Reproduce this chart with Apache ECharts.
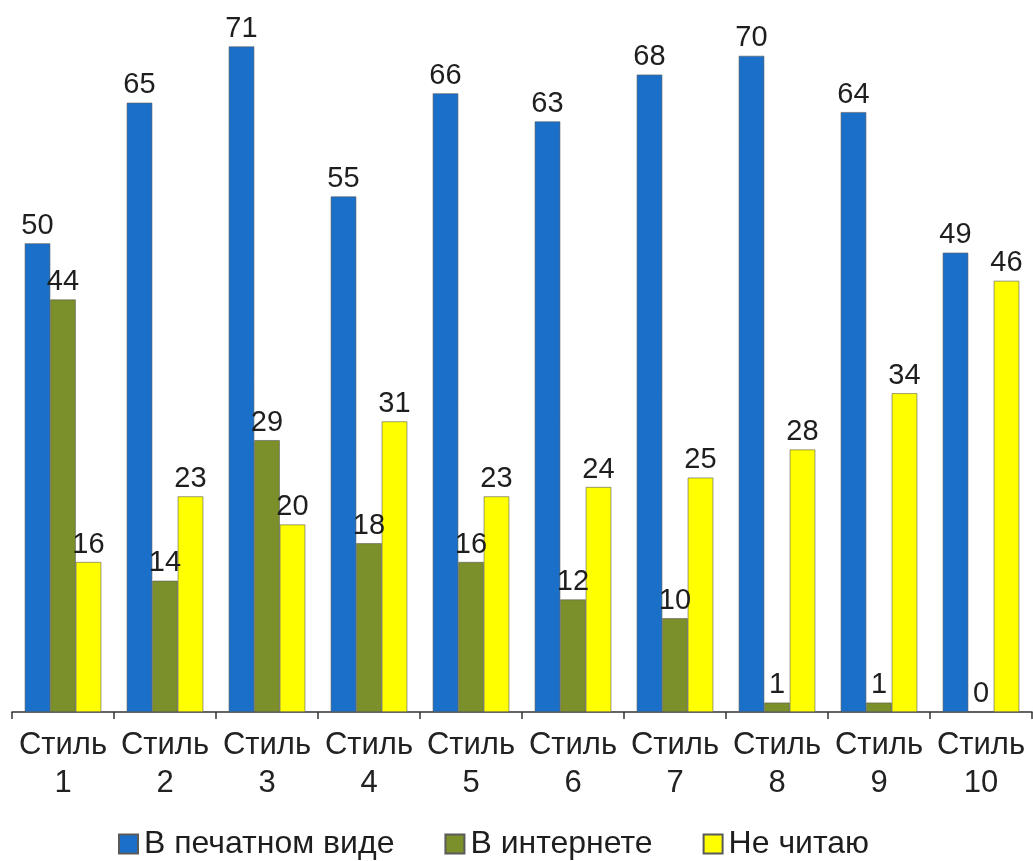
<!DOCTYPE html>
<html>
<head>
<meta charset="utf-8">
<script src="https://cdn.jsdelivr.net/npm/echarts@6/dist/echarts.min.js"></script>
<style>
  html, body { margin: 0; padding: 0; background: #ffffff; }
  #chart { width: 1033px; height: 861px; }
</style>
</head>
<body>
<div id="chart"></div>
<script>
// Survey: how respondents read, by style group
const categories = ['Стиль\n1', 'Стиль\n2', 'Стиль\n3', 'Стиль\n4', 'Стиль\n5',
                    'Стиль\n6', 'Стиль\n7', 'Стиль\n8', 'Стиль\n9', 'Стиль\n10'];
const seriesNames = ['В печатном виде', 'В интернете', 'Не читаю'];
const printed  = [50, 65, 71, 55, 66, 63, 68, 70, 64, 49];
const online   = [44, 14, 29, 18, 16, 12, 10, 1, 1, 0];
const notRead  = [16, 23, 20, 31, 23, 24, 25, 28, 34, 46];

const colors = ['#1a6fc9', '#7b8f2b', '#ffff00'];
const font = '"Liberation Sans", Arial, sans-serif';

function makeSeries(name, data, color) {
  return {
    name: name,
    type: 'bar',
    data: data,
    barGap: '0%',
    barCategoryGap: '25%',
    itemStyle: { color: color, borderColor: '#5a5a5a', borderWidth: 0.6 },
    label: {
      show: true,
      position: 'top',
      distance: 3,
      color: '#1e1e1e',
      fontFamily: font,
      fontSize: 29
    }
  };
}

const chart = echarts.init(document.getElementById('chart'));
chart.setOption({
  backgroundColor: '#ffffff',
  animation: false,
  color: colors,
  grid: { left: 12, right: 1, top: 9, bottom: 149, containLabel: false },
  legend: {
    top: 828,
    left: 118,
    padding: 0,
    itemWidth: 19,
    itemHeight: 19,
    itemGap: 50,
    icon: 'rect',
    textStyle: { fontFamily: font, fontSize: 32, color: '#1e1e1e', padding: [0, 0, 0, 1] },
    data: seriesNames
  },
  xAxis: {
    type: 'category',
    data: categories,
    axisLine: { lineStyle: { color: '#333', width: 1.5 } },
    axisTick: { show: true, length: 7, lineStyle: { color: '#333', width: 1.5 } },
    axisLabel: {
      fontFamily: font,
      fontSize: 31,
      color: '#222',
      lineHeight: 38,
      margin: 14,
      interval: 0
    }
  },
  yAxis: {
    type: 'value',
    min: 0,
    max: 75,
    show: false,
    splitLine: { show: false }
  },
  series: [
    makeSeries(seriesNames[0], printed, colors[0]),
    makeSeries(seriesNames[1], online, colors[1]),
    makeSeries(seriesNames[2], notRead, colors[2])
  ]
});
</script>
</body>
</html>
